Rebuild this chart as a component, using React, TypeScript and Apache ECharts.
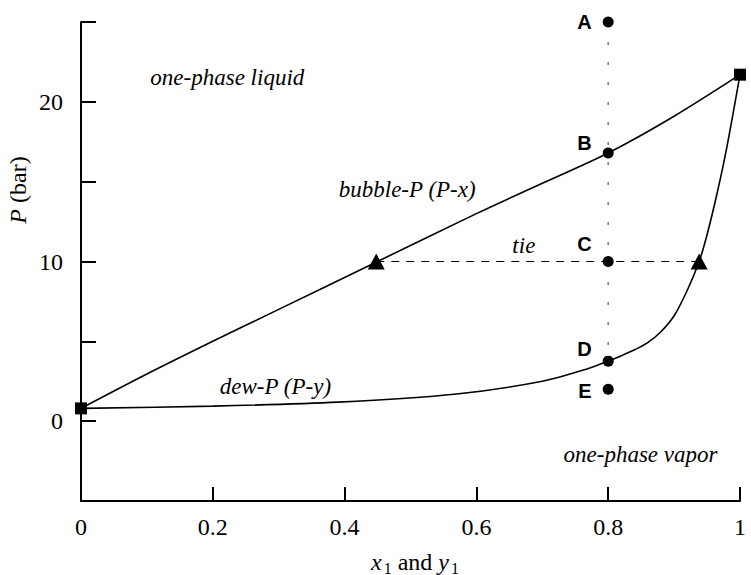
import React, { useEffect, useRef } from 'react';
import * as echarts from 'echarts';

// ---- data ----
const bubbleX = [0, 0.1, 0.2, 0.3, 0.45, 0.6, 0.7, 0.8, 0.9, 1.0];
const bubbleP = [0.8, 2.95, 5.0, 7.0, 10.0, 13.0, 14.9, 16.8, 19.1, 21.7];

const dewY = [0, 0.2, 0.39, 0.57, 0.7, 0.77, 0.8, 0.82, 0.84, 0.86, 0.88, 0.9, 0.92, 0.938, 0.95, 0.965, 0.98, 1.0];
const dewP = [0.8, 0.94, 1.19, 1.7, 2.5, 3.3, 3.76, 4.1, 4.47, 4.92, 5.6, 6.6, 8.2, 10.0, 11.68, 14.23, 17.15, 21.7];

const pureX = [0, 1];
const pureP = [0.8, 21.7];

const tieX = [0.448, 0.938];
const tieP = 10;

const stateNames = ['A', 'B', 'C', 'D', 'E'];
const stateX = 0.8;
const stateP = [25, 16.8, 10, 3.76, 2.0];

const xTicks = [0, 0.2, 0.4, 0.6, 0.8, 1];
const yLabelled = [0, 10, 20];

const annotationTexts = ['one-phase liquid', 'bubble-P (P-x)', 'tie', 'dew-P (P-y)', 'one-phase vapor'];
// anchor of each annotation in data coordinates
const annotationAnchors = [
  [0.222, 21.5],
  [0.495, 14.5],
  [0.672, 11.0],
  [0.295, 2.2],
  [0.849, -2.1],
];
// vertical label offsets (px) for state letters
const stateLabelDy = [0, -10, -18, -12, 2];

const SERIF = '"Liberation Serif", "Times New Roman", serif';
const SANS = '"Liberation Sans", Arial, sans-serif';

export default function App() {
  const ref = useRef<HTMLDivElement>(null);
  useEffect(() => {
    if (!ref.current) return;
    const chart = echarts.init(ref.current, undefined, { renderer: 'svg' });
    const black = '#000';
    const option: any = {
      animation: false,
      backgroundColor: '#fff',
      grid: { left: 81, right: 11, top: 22, bottom: 74, containLabel: false },
      xAxis: {
        type: 'value',
        min: 0,
        max: 1,
        interval: 0.2,
        axisLine: { show: true, onZero: false, lineStyle: { color: black, width: 2 } },
        axisTick: { show: true, inside: true, length: 14, lineStyle: { color: black, width: 2 } },
        axisLabel: {
          show: true,
          margin: 14,
          color: black,
          fontFamily: SERIF,
          fontSize: 24,
          formatter: (v: number) => (xTicks.some((t) => Math.abs(t - v) < 1e-9) ? String(+v.toFixed(1)) : ''),
        },
        splitLine: { show: false },
      },
      yAxis: {
        type: 'value',
        min: -5,
        max: 25,
        interval: 5,
        axisLine: { show: true, onZero: false, lineStyle: { color: black, width: 2 } },
        axisTick: { show: true, inside: true, length: 15, lineStyle: { color: black, width: 2 } },
        axisLabel: {
          show: true,
          margin: 18,
          color: black,
          fontFamily: SERIF,
          fontSize: 24,
          formatter: (v: number) => (yLabelled.includes(v) ? String(v) : ''),
        },
        splitLine: { show: false },
      },
      graphic: [
        {
          type: 'text',
          x: 415,
          y: 562,
          style: {
            text: '{i|x}{s|1} and {i|y}{s|1}',
            align: 'center',
            verticalAlign: 'middle',
            fill: black,
            font: `24px ${SERIF}`,
            rich: {
              i: { fontStyle: 'italic', fontSize: 24, fontFamily: SERIF, fill: black },
              s: { fontSize: 16, fontFamily: SERIF, fill: black, padding: [12, 0, 0, 2] },
            },
          },
        },
        {
          type: 'text',
          x: 18,
          y: 190,
          rotation: Math.PI / 2,
          style: {
            text: '{i|P} (bar)',
            align: 'center',
            verticalAlign: 'middle',
            fill: black,
            font: `24px ${SERIF}`,
            rich: {
              i: { fontStyle: 'italic', fontSize: 24, fontFamily: SERIF, fill: black },
            },
          },
        },
      ],
      series: [
        {
          name: 'bubble',
          type: 'line',
          data: bubbleX.map((x, i) => [x, bubbleP[i]]),
          smooth: 0.3,
          showSymbol: false,
          lineStyle: { color: black, width: 1.6 },
          z: 3,
        },
        {
          name: 'dew',
          type: 'line',
          data: dewY.map((y, i) => [y, dewP[i]]),
          smooth: 0.3,
          showSymbol: false,
          lineStyle: { color: black, width: 1.6 },
          z: 3,
        },
        {
          name: 'tie',
          type: 'line',
          data: tieX.map((x) => [x, tieP]),
          showSymbol: false,
          lineStyle: { color: black, width: 1.2, type: [8, 7] },
          z: 2,
        },
        {
          name: 'isopleth',
          type: 'line',
          data: [[stateX, stateP[0]], [stateX, stateP[3]]],
          showSymbol: false,
          clip: false,
          lineStyle: { color: '#808080', width: 1.6, type: [3, 17] },
          z: 2,
        },
        {
          name: 'pure',
          type: 'scatter',
          data: pureX.map((x, i) => [x, pureP[i]]),
          symbol: 'rect',
          symbolSize: 12,
          clip: false,
          itemStyle: { color: black, opacity: 1 },
          z: 5,
        },
        {
          name: 'tieEnds',
          type: 'scatter',
          data: tieX.map((x) => [x, tieP]),
          symbol: 'triangle',
          symbolSize: [17, 16],
          itemStyle: { color: black, opacity: 1 },
          z: 5,
        },
        {
          name: 'states',
          type: 'scatter',
          data: stateNames.map((n, i) => ({
            name: n,
            value: [stateX, stateP[i]],
            label: { offset: [0, stateLabelDy[i]] },
          })),
          symbol: 'circle',
          symbolSize: 11,
          clip: false,
          itemStyle: { color: black, opacity: 1 },
          label: {
            show: true,
            position: 'left',
            distance: 11,
            formatter: (p: any) => p.name,
            color: black,
            fontFamily: SANS,
            fontWeight: 'bold',
            fontSize: 20,
          },
          z: 6,
        },
        {
          name: 'annotations',
          type: 'scatter',
          data: annotationTexts.map((t, i) => ({ name: t, value: annotationAnchors[i] })),
          symbolSize: 0,
          clip: false,
          itemStyle: { color: black, opacity: 1 },
          label: {
            show: true,
            position: 'inside',
            formatter: (p: any) => p.name,
            color: black,
            fontFamily: SERIF,
            fontStyle: 'italic',
            fontSize: 23,
          },
          z: 4,
        },
      ],
    };
    chart.setOption(option);
    return () => chart.dispose();
  }, []);
  return (
    <div
      ref={ref}
      style={{ position: 'absolute', left: 0, top: 0, width: 751, height: 575, background: '#fff' }}
    />
  );
}
